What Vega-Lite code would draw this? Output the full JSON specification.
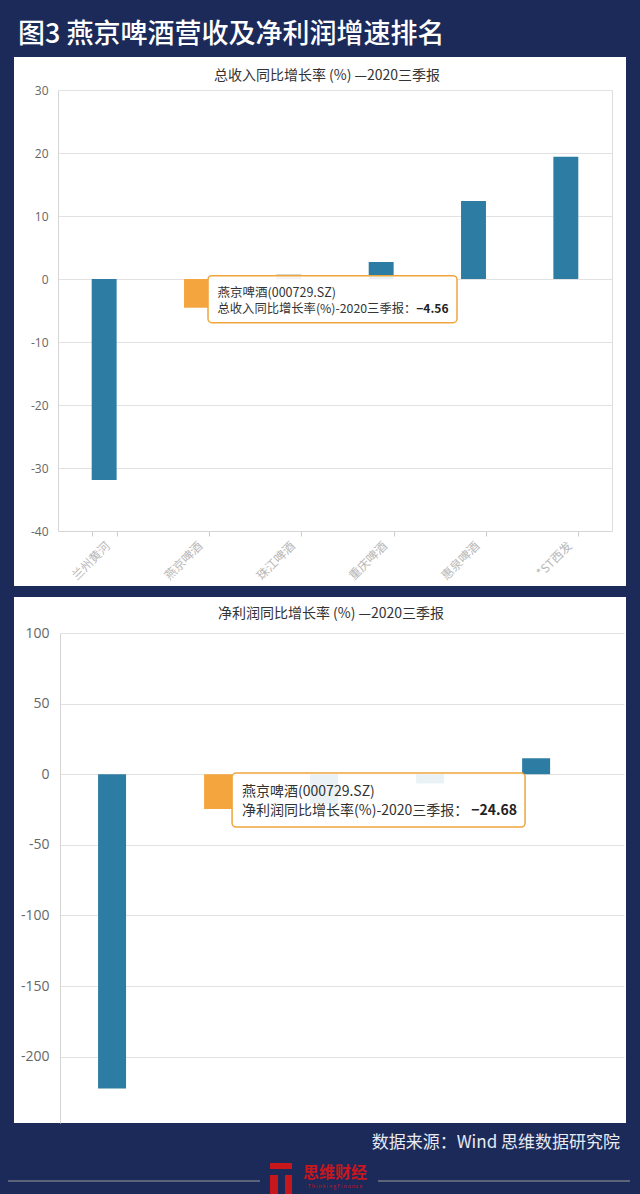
{
  "$schema": "https://vega.github.io/schema/vega-lite/v6.json",
  "background": "#1c2a5a",
  "padding": {"left": 0, "right": 0, "top": 21, "bottom": 0},
  "title": {"text": "图3 燕京啤酒营收及净利润增速排名", "anchor": "start", "dx": 18, "color": "#ffffff", "fontSize": 27, "font": "Noto Sans CJK SC", "fontWeight": 500, "offset": 8},
  "config": {"view": {"fill": "#ffffff", "stroke": null}, "font": "Noto Sans CJK SC"},
  "spacing": 11,
  "center": true,
  "datasets": {
    "revenue": [
      {"company": "兰州黄河", "growth": -31.9, "group": "其他"},
      {"company": "燕京啤酒", "code": "000729.SZ", "growth": -4.56, "group": "燕京啤酒"},
      {"company": "珠江啤酒", "growth": 0.7, "group": "持平"},
      {"company": "重庆啤酒", "growth": 2.7, "group": "其他"},
      {"company": "惠泉啤酒", "growth": 12.4, "group": "其他"},
      {"company": "*ST西发", "growth": 19.4, "group": "其他"}
    ],
    "profit": [
      {"company": "兰州黄河", "growth": -222.5, "group": "其他"},
      {"company": "燕京啤酒", "code": "000729.SZ", "growth": -24.68, "group": "燕京啤酒"},
      {"company": "惠泉啤酒", "growth": -21, "group": "淡化"},
      {"company": "重庆啤酒", "growth": -6.5, "group": "淡化"},
      {"company": "珠江啤酒", "growth": 11.3, "group": "其他"}
    ],
    "brand": [{"name": "思维财经", "en": "T h i n k i n g F i n a n c e"}]
  },
  "vconcat": [
    {
      "width": 612,
      "height": 529,
      "data": {"name": "revenue"},
      "title": {"text": "总收入同比增长率 (%) —2020三季报", "offset": -26, "fontSize": 14, "fontWeight": "normal", "color": "#333333", "dx": 7, "anchor": "middle"},
      "layer": [
        {
          "mark": {"type": "bar"},
          "encoding": {
            "x": {"field": "company", "type": "nominal", "sort": null,
              "scale": {"domain": ["兰州黄河", "燕京啤酒", "珠江啤酒", "重庆啤酒", "惠泉啤酒", "*ST西发"], "range": [44, 598], "paddingInner": 0.73, "paddingOuter": 0.365},
              "axis": {"orient": "bottom", "offset": -55, "labelAngle": -45, "labelColor": "#b8b8b8", "labelFontSize": 12, "labelPadding": 4, "tickBand": "extent", "tickSize": 5, "tickColor": "#cccccc", "domainColor": "#d5d5d5", "grid": false, "title": null}},
            "y": {"field": "growth", "type": "quantitative",
              "scale": {"domain": [-40, 30], "range": [474, 33], "nice": false, "zero": false},
              "axis": {"orient": "left", "offset": -44, "values": [-40, -30, -20, -10, 0, 10, 20, 30], "labelExpr": "'' + datum.value", "labelColor": "#666666", "labelFontSize": 12, "labelFont": "Open Sans", "labelPadding": 10, "ticks": false, "domainColor": "#d5d5d5", "gridColor": "#e2e2e2", "title": null}},
            "color": {"field": "group", "type": "nominal", "scale": {"domain": ["其他", "燕京啤酒", "持平"], "range": ["#2d7ca3", "#f4a53d", "#a39d94"]}, "legend": null}
          }
        },
        {
          "transform": [{"filter": "datum.company === '燕京啤酒'"}],
          "mark": {"type": "point", "shape": "M0.155,-0.32H2.565A0.04,0.04 0 0 1 2.605,-0.28V0.11A0.04,0.04 0 0 1 2.565,0.15H0.155A0.04,0.04 0 0 1 0.115,0.11V-0.28A0.04,0.04 0 0 1 0.155,-0.32Z", "size": 40000, "fill": "#ffffff", "fillOpacity": 0.9, "stroke": "#f0a53c", "strokeWidth": 1.5, "opacity": 1},
          "encoding": {
            "x": {"field": "company", "type": "nominal", "sort": null},
            "y": {"field": "growth", "type": "quantitative", "axis": {"orient": "right", "offset": -14, "labels": false, "ticks": false, "grid": false, "domainColor": "#dddddd", "title": null}}
          }
        },
        {
          "transform": [{"filter": "datum.company === '燕京啤酒'"}],
          "mark": {"type": "text", "align": "left", "baseline": "middle", "dx": 21, "dy": -15, "fontSize": 12.5, "color": "#333333"},
          "encoding": {
            "x": {"field": "company", "type": "nominal", "sort": null},
            "y": {"field": "growth", "type": "quantitative", "axis": null},
            "text": {"value": "燕京啤酒(000729.SZ)"}
          }
        },
        {
          "transform": [{"filter": "datum.company === '燕京啤酒'"}],
          "mark": {"type": "text", "align": "left", "baseline": "middle", "dx": 21, "dy": 1, "fontSize": 12.3, "color": "#333333"},
          "encoding": {
            "x": {"field": "company", "type": "nominal", "sort": null},
            "y": {"field": "growth", "type": "quantitative", "axis": null},
            "text": {"value": "总收入同比增长率(%)-2020三季报："}
          }
        },
        {
          "transform": [{"filter": "datum.company === '燕京啤酒'"}],
          "mark": {"type": "text", "align": "right", "baseline": "middle", "dx": 252, "dy": 1, "fontSize": 12, "fontWeight": "bold", "color": "#222222"},
          "encoding": {
            "x": {"field": "company", "type": "nominal", "sort": null},
            "y": {"field": "growth", "type": "quantitative", "axis": null},
            "text": {"field": "growth", "type": "quantitative", "format": ".2f"}
          }
        }
      ],
      "resolve": {"axis": {"y": "independent"}}
    },
    {
      "width": 612,
      "height": 526,
      "data": {"name": "profit"},
      "title": {"text": "净利润同比增长率 (%) —2020三季报", "offset": -24, "fontSize": 14, "fontWeight": "normal", "color": "#333333", "dx": 11, "anchor": "middle"},
      "layer": [
        {
          "mark": {"type": "bar"},
          "encoding": {
            "x": {"field": "company", "type": "nominal", "sort": null,
              "scale": {"domain": ["兰州黄河", "燕京啤酒", "惠泉啤酒", "重庆啤酒", "珠江啤酒"], "range": [46, 610], "paddingInner": 0.736, "paddingOuter": 0.528, "align": 0.34},
              "axis": null},
            "y": {"field": "growth", "type": "quantitative",
              "scale": {"domain": [-247, 100], "range": [526, 36], "nice": false, "zero": false},
              "axis": {"orient": "left", "offset": -46, "values": [-200, -150, -100, -50, 0, 50, 100], "labelExpr": "'' + datum.value", "labelColor": "#666666", "labelFontSize": 14, "labelFont": "Open Sans", "labelPadding": 11, "ticks": false, "domainColor": "#d5d5d5", "gridColor": "#e2e2e2", "title": null}},
            "color": {"field": "group", "type": "nominal", "scale": {"domain": ["其他", "燕京啤酒", "淡化"], "range": ["#2d7ca3", "#f4a53d", "#dfe4ec"]}, "legend": null}
          }
        },
        {
          "transform": [{"filter": "datum.company === '燕京啤酒'"}],
          "mark": {"type": "point", "shape": "M0.18,-0.36H3.03A0.04,0.04 0 0 1 3.07,-0.32V0.14A0.04,0.04 0 0 1 3.03,0.18H0.18A0.04,0.04 0 0 1 0.14,0.14V-0.32A0.04,0.04 0 0 1 0.18,-0.36Z", "size": 40000, "fill": "#ffffff", "fillOpacity": 0.9, "stroke": "#f0a53c", "strokeWidth": 1.5, "opacity": 1},
          "encoding": {
            "x": {"field": "company", "type": "nominal", "sort": null},
            "y": {"field": "growth", "type": "quantitative", "axis": null}
          }
        },
        {
          "transform": [{"filter": "datum.company === '燕京啤酒'"}],
          "mark": {"type": "text", "align": "left", "baseline": "middle", "dx": 24, "dy": -17, "fontSize": 14, "color": "#333333"},
          "encoding": {
            "x": {"field": "company", "type": "nominal", "sort": null},
            "y": {"field": "growth", "type": "quantitative", "axis": null},
            "text": {"value": "燕京啤酒(000729.SZ)"}
          }
        },
        {
          "transform": [{"filter": "datum.company === '燕京啤酒'"}],
          "mark": {"type": "text", "align": "left", "baseline": "middle", "dx": 24, "dy": 2, "fontSize": 14, "color": "#333333"},
          "encoding": {
            "x": {"field": "company", "type": "nominal", "sort": null},
            "y": {"field": "growth", "type": "quantitative", "axis": null},
            "text": {"value": "净利润同比增长率(%)-2020三季报："}
          }
        },
        {
          "transform": [{"filter": "datum.company === '燕京啤酒'"}],
          "mark": {"type": "text", "align": "right", "baseline": "middle", "dx": 299, "dy": 2, "fontSize": 14, "fontWeight": "bold", "color": "#222222"},
          "encoding": {
            "x": {"field": "company", "type": "nominal", "sort": null},
            "y": {"field": "growth", "type": "quantitative", "axis": null},
            "text": {"field": "growth", "type": "quantitative", "format": ".2f"}
          }
        }
      ],
      "resolve": {"axis": {"y": "independent"}}
    },
    {
      "width": 640,
      "height": 34,
      "data": {"name": "brand"},
      "title": {"text": "数据来源：Wind  思维数据研究院", "anchor": "end", "dx": -20, "color": "#e8ebf3", "fontSize": 17, "fontWeight": "normal", "offset": 8},
      "layer": [
        {"mark": {"type": "point", "shape": "M-3.12,0.04H-0.6M0.58,0.04H3.1", "size": 40000, "filled": false, "fill": null, "stroke": "#9a9a9a", "strokeWidth": 1.2, "opacity": 1}, "encoding": {}},
        {"mark": {"type": "point", "shape": "M-0.5,-0.14H-0.28V0.17H-0.5Z", "size": 40000, "filled": true, "color": "#c8161d", "opacity": 1}, "encoding": {}},
        {"mark": {"type": "point", "shape": "M-0.5,-0.08H-0.28V-0.02H-0.35V0.17H-0.42V-0.02H-0.5Z", "size": 40000, "filled": true, "color": "#1c2a5a", "opacity": 1}, "encoding": {}},
        {"mark": {"type": "text", "dx": 15, "dy": -4, "fontSize": 16, "fontWeight": "bold", "color": "#c8161d", "baseline": "middle"}, "encoding": {"text": {"field": "name"}}},
        {"mark": {"type": "text", "dx": 15, "dy": 9, "fontSize": 5, "color": "#c8161d", "baseline": "middle"}, "encoding": {"text": {"field": "en"}}}
      ]
    }
  ]
}
